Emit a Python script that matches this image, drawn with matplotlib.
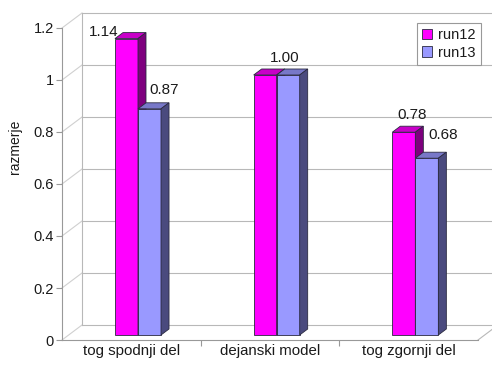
import matplotlib
matplotlib.use('Agg')
import matplotlib.pyplot as plt
from matplotlib.patches import Polygon, Patch

plt.rcParams['font.family'] = ['Liberation Sans', 'DejaVu Sans']

categories = ['tog spodnji del', 'dejanski model', 'tog zgornji del']
series = ['run12', 'run13']
run12 = [1.14, 1.00, 0.78]
run13 = [0.87, 1.00, 0.68]
labels12 = ['1.14', '1.00', '0.78']
labels13 = ['0.87', '', '0.68']
yticks = [0, 0.2, 0.4, 0.6, 0.8, 1.0, 1.2]
ytick_labels = ['0', '0.2', '0.4', '0.6', '0.8', '1', '1.2']

# style
front_cols = ['#FF00FF', '#9999FF']
top_cols = ['#C800C8', '#7878C8']
side_cols = ['#7E007E', '#4A4A7E']
edge = '#2a2a40'
grid_col = '#b8b8b8'
txt = '#1a1a1a'
# label shifts (points) per series/category
lab_dx = [[-22, 8, 0], [5, 0, 6]]
lab_dy = [[-4.5, 3, 3], [4.5, 0, 7.5]]

fig = plt.figure(figsize=(4.92, 3.65), dpi=100)
ax = fig.add_axes([62 / 492, 25 / 365, 416 / 492, 312 / 365])
ax.set_xlim(0, 3)
ax.set_ylim(0, 1.2)

# depth offset of the back wall in data units (20 px right, 15 px up)
DX = 20 / (416 / 3)
DY = 15 / (312 / 1.2)

for v in yticks:
    ax.plot([DX, 3 + DX], [v + DY, v + DY], color=grid_col, lw=0.8, clip_on=False, zorder=1)
    ax.plot([0, DX], [v, v + DY], color='#d0d0d0', lw=0.8, clip_on=False, zorder=1)
ax.plot([DX, DX], [DY, 1.2 + DY], color=grid_col, lw=0.8, clip_on=False, zorder=1)
ax.plot([3, 3 + DX], [0, DY], color=grid_col, lw=0.8, clip_on=False, zorder=1)

# bars
w = 0.166
f0 = 1 / 3
fd = 0.4
x = [i + 0.5 for i in range(len(categories))]
vals = [run12, run13]
for ci in range(len(categories)):
    for si in range(2):
        v = vals[si][ci]
        left = x[ci] - w + si * w + f0 * DX
        base = f0 * DY
        z = 3 + ci * 4 + si * 2
        ax.bar(left, v, width=w, bottom=base, align='edge', color=front_cols[si],
               edgecolor=edge, linewidth=0.6, zorder=z, clip_on=False)
        ddx, ddy = fd * DX, fd * DY
        top = Polygon([(left, v + base), (left + w, v + base), (left + w + ddx, v + base + ddy),
                       (left + ddx, v + base + ddy)], closed=True, facecolor=top_cols[si],
                      edgecolor=edge, linewidth=0.6, zorder=z, clip_on=False)
        side = Polygon([(left + w, base), (left + w + ddx, base + ddy), (left + w + ddx, v + base + ddy),
                        (left + w, v + base)], closed=True, facecolor=side_cols[si],
                       edgecolor=edge, linewidth=0.6, zorder=z, clip_on=False)
        ax.add_patch(top)
        ax.add_patch(side)
        lab = [labels12, labels13][si][ci]
        if lab:
            ax.annotate(lab, (left + w / 2 + ddx, v + base + ddy),
                        xytext=(lab_dx[si][ci], lab_dy[si][ci]),
                        textcoords='offset points', ha='center', va='bottom', fontsize=11,
                        color=txt, zorder=30)

# axes
for s in ['top', 'right']:
    ax.spines[s].set_visible(False)
ax.spines['left'].set_color('#999999')
ax.spines['bottom'].set_color('#999999')
ax.set_yticks(yticks)
ax.set_yticklabels(ytick_labels, fontsize=10.5, color=txt)
ax.set_xticks([1, 2])
ax.set_xticklabels([])
ax.set_xticks(x, minor=True)
ax.set_xticklabels(categories, minor=True, fontsize=10.8, color=txt)
ax.tick_params(axis='x', which='major', length=4, color='#999999')
ax.tick_params(axis='x', which='minor', length=0, pad=3)
ax.tick_params(axis='y', length=4, color='#999999', pad=2)
ax.set_ylabel('razmerje', fontsize=10, color=txt)
ax.yaxis.set_label_coords(-0.095, 0.62)

handles = [Patch(facecolor=front_cols[i], edgecolor=edge, linewidth=0.6) for i in range(2)]
leg = ax.legend(handles, series, loc='upper right', bbox_to_anchor=(1.024, 1.04), fontsize=10.5,
                fancybox=False, framealpha=1, edgecolor='#999999', handlelength=0.7,
                handleheight=0.7, handletextpad=0.4, borderpad=0.35, labelspacing=0.25)
leg.get_frame().set_linewidth(0.8)
for t in leg.get_texts():
    t.set_color(txt)
leg.set_zorder(40)

fig.savefig('out.png', dpi=100)
